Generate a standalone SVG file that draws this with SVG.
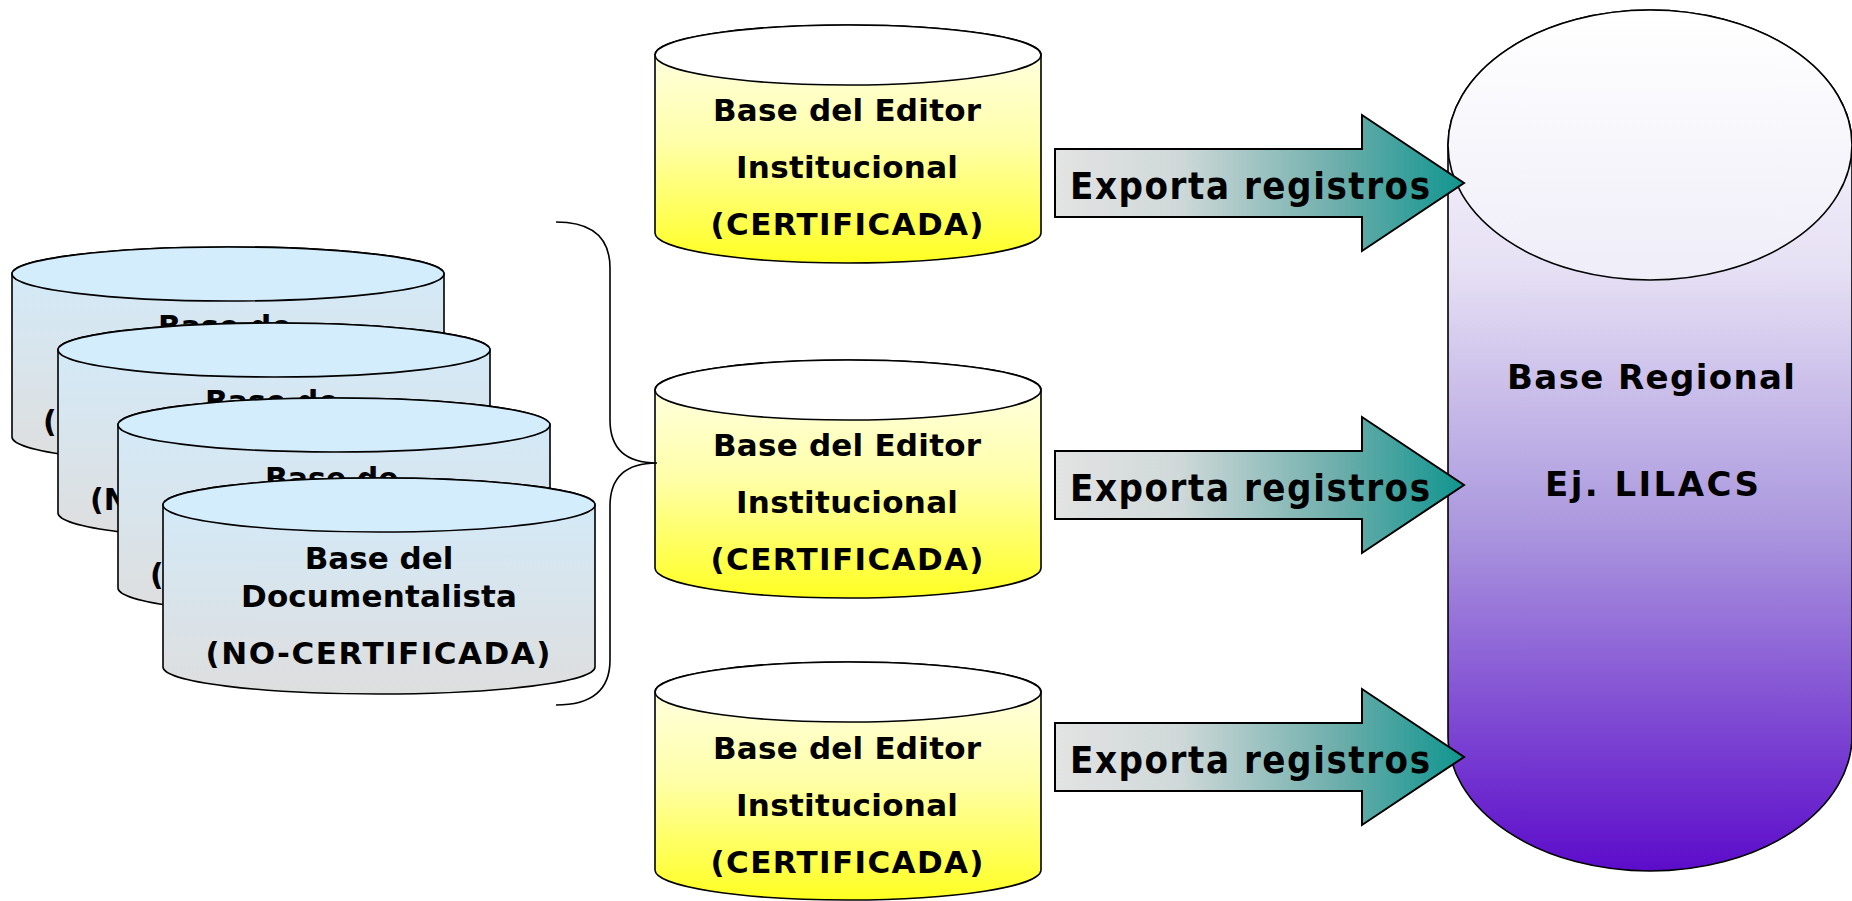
<svg xmlns="http://www.w3.org/2000/svg" width="1852" height="901" viewBox="0 0 1852 901">
<defs>
<linearGradient id="gDoc" x1="0" y1="0" x2="0" y2="1">
<stop offset="0" stop-color="#d2ebfb"/>
<stop offset="1" stop-color="#dedede"/>
</linearGradient>
<linearGradient id="gEd" x1="0" y1="0" x2="0" y2="1">
<stop offset="0" stop-color="#fffff0"/>
<stop offset="0.5" stop-color="#ffffa8"/>
<stop offset="1" stop-color="#ffff22"/>
</linearGradient>
<linearGradient id="gReg" x1="0" y1="0" x2="0" y2="1">
<stop offset="0" stop-color="#ffffff"/>
<stop offset="0.3" stop-color="#e6e0f4"/>
<stop offset="0.6" stop-color="#ab98de"/>
<stop offset="1" stop-color="#5c0cca"/>
</linearGradient>
<linearGradient id="gRegTop" x1="0" y1="0" x2="0" y2="1">
<stop offset="0" stop-color="#ffffff"/>
<stop offset="1" stop-color="#efedf8"/>
</linearGradient>
<linearGradient id="gArrow" x1="0" y1="0" x2="1" y2="0">
<stop offset="0" stop-color="#e3e3e3"/>
<stop offset="0.3" stop-color="#d0d9d9"/>
<stop offset="0.7" stop-color="#6badaa"/>
<stop offset="1" stop-color="#10958f"/>
</linearGradient>
<style>
.ol{stroke:#000;stroke-width:1.6}
.doc{fill:url(#gDoc)}
.docTop{fill:#d4edfc}
.ed{fill:url(#gEd)}
.edTop{fill:#ffffff}
.t{font-family:"DejaVu Sans","Verdana",sans-serif;font-weight:bold;font-size:31px;fill:#000}
.tb{font-size:30px}
.tc{text-anchor:middle}
.tr{font-size:34px}
.ta{font-family:"DejaVu Sans Condensed","DejaVu Sans",sans-serif;font-weight:bold;font-size:38px;fill:#000}
.arrow{fill:url(#gArrow);stroke:#000;stroke-width:2}
.brace{fill:none;stroke:#000;stroke-width:1.6}
</style>
</defs>
<rect width="1852" height="901" fill="#ffffff"/>

<g id="base-regional">
<path class="ol" fill="url(#gReg)" d="M1448,145 L1448,736 A202,135 0 0 0 1852,736 L1852,145 A202,135 0 0 0 1448,145 Z"/>
<ellipse class="ol" fill="url(#gRegTop)" cx="1650" cy="145" rx="202" ry="135"/>
<text class="t tc tr" x="1651" y="389" textLength="288" lengthAdjust="spacing">Base Regional</text>
<text class="t tc tr" x="1652" y="496" textLength="214" lengthAdjust="spacing">Ej. LILACS</text>
</g>

<g id="doc-1">
<path class="ol doc" d="M12,274 L12,437 A216,27 0 0 0 444,437 L444,274 A216,27 0 0 0 12,274 Z"/>
<ellipse class="ol docTop" cx="228" cy="274" rx="216" ry="27"/>
<text class="t tb" x="158" y="337">Base de</text>
<text class="t tb" x="43" y="432">(</text>
</g>

<g id="doc-2">
<path class="ol doc" d="M58,350 L58,513 A216,27 0 0 0 490,513 L490,350 A216,27 0 0 0 58,350 Z"/>
<ellipse class="ol docTop" cx="274" cy="350" rx="216" ry="27"/>
<text class="t tb" x="205" y="412">Base de</text>
<text class="t tb" x="90" y="510">(N</text>
</g>

<g id="doc-3">
<path class="ol doc" d="M118,425 L118,588 A216,27 0 0 0 550,588 L550,425 A216,27 0 0 0 118,425 Z"/>
<ellipse class="ol docTop" cx="334" cy="425" rx="216" ry="27"/>
<text class="t tb" x="265" y="489">Base de</text>
<text class="t tb" x="150" y="585">(</text>
</g>

<g id="doc-4">
<path class="ol doc" d="M163,505 L163,667 A216,27 0 0 0 595,667 L595,505 A216,27 0 0 0 163,505 Z"/>
<ellipse class="ol docTop" cx="379" cy="505" rx="216" ry="27"/>
<text class="t tc" x="379" y="569">Base del</text>
<text class="t tc" x="379" y="607" textLength="276" lengthAdjust="spacing">Documentalista</text>
<text class="t tc" x="378" y="664" textLength="345" lengthAdjust="spacing">(NO-CERTIFICADA)</text>
</g>

<g id="editor-1">
<path class="ol ed" d="M655,55 L655,233 A193,30 0 0 0 1041,233 L1041,55 A193,30 0 0 0 655,55 Z"/>
<ellipse class="ol edTop" cx="848" cy="55" rx="193" ry="30"/>
<text class="t tc" x="847" y="121" textLength="268" lengthAdjust="spacing">Base del Editor</text>
<text class="t tc" x="847" y="178" textLength="222" lengthAdjust="spacing">Institucional</text>
<text class="t tc" x="847" y="235" textLength="273" lengthAdjust="spacing">(CERTIFICADA)</text>
</g>

<g id="editor-2">
<path class="ol ed" d="M655,390 L655,568 A193,30 0 0 0 1041,568 L1041,390 A193,30 0 0 0 655,390 Z"/>
<ellipse class="ol edTop" cx="848" cy="390" rx="193" ry="30"/>
<text class="t tc" x="847" y="456" textLength="268" lengthAdjust="spacing">Base del Editor</text>
<text class="t tc" x="847" y="513" textLength="222" lengthAdjust="spacing">Institucional</text>
<text class="t tc" x="847" y="570" textLength="273" lengthAdjust="spacing">(CERTIFICADA)</text>
</g>

<g id="editor-3">
<path class="ol ed" d="M655,692 L655,870 A193,30 0 0 0 1041,870 L1041,692 A193,30 0 0 0 655,692 Z"/>
<ellipse class="ol edTop" cx="848" cy="692" rx="193" ry="30"/>
<text class="t tc" x="847" y="759" textLength="268" lengthAdjust="spacing">Base del Editor</text>
<text class="t tc" x="847" y="816" textLength="222" lengthAdjust="spacing">Institucional</text>
<text class="t tc" x="847" y="873" textLength="273" lengthAdjust="spacing">(CERTIFICADA)</text>
</g>

<g id="connectors">
<path class="brace" d="M556,222 Q610,222 610,268 L610,420 Q610,463 657,463 Q610,463 610,506 L610,660 Q610,705 556,705"/>
<path class="arrow" d="M1055,149 H1362 V115 L1464,183 L1362,251 V217 H1055 Z"/>
<text class="ta" x="1070" y="199" textLength="360" lengthAdjust="spacing">Exporta registros</text>
<path class="arrow" d="M1055,451 H1362 V417 L1464,485 L1362,553 V519 H1055 Z"/>
<text class="ta" x="1070" y="501" textLength="360" lengthAdjust="spacing">Exporta registros</text>
<path class="arrow" d="M1055,723 H1362 V689 L1464,757 L1362,825 V791 H1055 Z"/>
<text class="ta" x="1070" y="773" textLength="360" lengthAdjust="spacing">Exporta registros</text>
</g>
</svg>
